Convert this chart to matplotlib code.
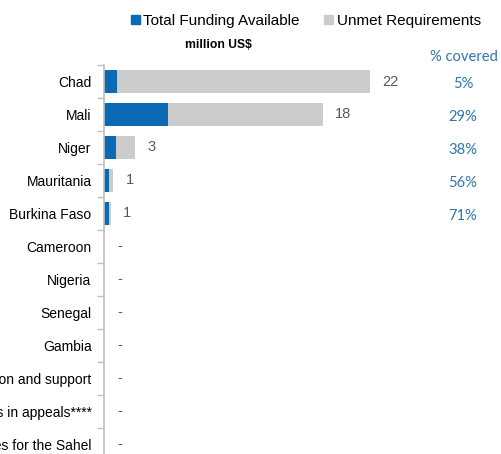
import numpy as np
import matplotlib.pyplot as plt
from matplotlib.patches import Patch

# Dados (milhões de US$)
categories = ["Chad", "Mali", "Niger", "Mauritania", "Burkina Faso", "Cameroon",
              "Nigeria", "Senegal", "Gambia", "Regional coordination and support",
              "Other countries in appeals****", "Regional activities for the Sahel"]
funding = [1.1, 5.3, 1.0, 0.4, 0.4, 0, 0, 0, 0, 0, 0, 0]
unmet = [20.9, 12.8, 1.6, 0.35, 0.15, 0, 0, 0, 0, 0, 0, 0]
total_labels = ["22", "18", "3", "1", "1", "-", "-", "-", "-", "-", "-", "-"]
pct_covered = ["5%", "29%", "38%", "56%", "71%"]

blue = "#0a6ab6"
grey = "#cccccc"

fig = plt.figure(figsize=(5.01, 4.54), dpi=100)
ax = fig.add_axes([0.2076, -0.0143, 0.724, 0.871])

y = np.arange(len(categories))
ax.barh(y, funding, height=0.7, color=blue)
ax.barh(y, unmet, left=funding, height=0.7, color=grey)

totals = np.array(funding) + np.array(unmet)
for yi, t, lab in zip(y, totals, total_labels):
    off = 9 if lab != "-" else 9.5
    ax.annotate(lab, (t, yi), xytext=(off, 0), textcoords="offset points",
                ha="left", va="center", fontsize=10.5, color="#595959",
                family="Liberation Sans")

ax.set_xlim(0, 30)
ax.set_ylim(len(categories) - 0.5, -0.5)
ax.set_yticks(y)
ax.set_yticklabels(categories, fontsize=10, family="Liberation Sans")
ax.set_yticks(np.arange(-0.5, len(categories)), minor=True)
ax.tick_params(axis="y", which="major", length=0, pad=9)
ax.tick_params(axis="y", which="minor", length=5, color="#bfbfbf", width=1)
ax.set_xticks([])
for s in ["top", "right", "bottom"]:
    ax.spines[s].set_visible(False)
ax.spines["left"].set_color("#bfbfbf")
ax.spines["left"].set_linewidth(1.2)

# % coberto
fig.text(464 / 501, 1 - 57 / 454, "% covered", ha="center", va="center",
         fontsize=10.6, color="#2e75b6", family="Lato")
for yi, p in zip(y, pct_covered):
    yd = ax.transData.transform((0, yi))[1] - 2.5
    fig.text(463 / 501, yd / fig.bbox.height, p, ha="center", va="center",
             fontsize=10.6, color="#2e75b6", family="Lato")

fig.text(218 / 501, 1 - 45 / 454, "million US$", ha="center", va="center",
         fontsize=8.7, fontweight="bold", family="Liberation Sans")

handles = [Patch(color=blue), Patch(color=grey)]
fig.legend(handles, ["Total Funding Available", "Unmet Requirements"],
           loc="center", bbox_to_anchor=(306 / 501, 1 - 21 / 454), ncol=2,
           frameon=False, prop={"family": "Liberation Sans", "size": 11},
           handlelength=0.55, handleheight=0.55, handletextpad=0.25, columnspacing=1.6)

fig.savefig("out.png", dpi=100)
